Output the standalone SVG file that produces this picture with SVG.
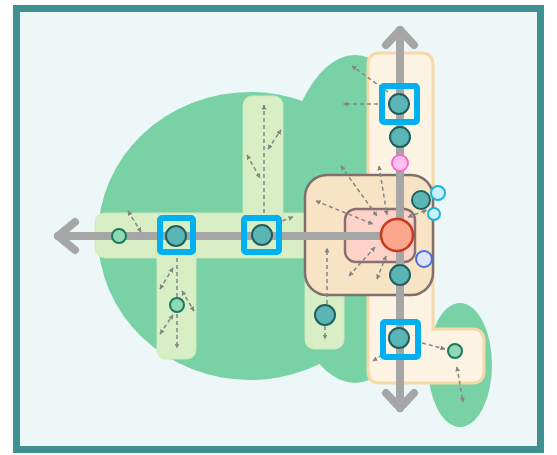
<svg xmlns="http://www.w3.org/2000/svg" width="557" height="455" viewBox="0 0 557 455">
<defs>
<marker id="ah" viewBox="0 0 10 10" refX="9" refY="5" markerWidth="5" markerHeight="5" orient="auto-start-reverse" markerUnits="userSpaceOnUse">
<path d="M0,0 L10,5 L0,10 z" fill="#858585"/>
</marker>
<style>
.green{fill:#78d2a6}
.bar{fill:#d8efc5;stroke:#cde8b8;stroke-width:1}
.road{stroke:#a6a6a6;stroke-width:8;fill:none;stroke-linecap:round;stroke-linejoin:round}
.d1{stroke:#858585;stroke-width:1.5;stroke-dasharray:4 3;fill:none;marker-end:url(#ah)}
.d2{stroke:#858585;stroke-width:1.5;stroke-dasharray:4 3;fill:none;marker-end:url(#ah);marker-start:url(#ah)}
.teal{fill:#5bb5b5;stroke:#1f5f5f;stroke-width:2}
.lg{fill:#8fdab2;stroke:#1c7a5c;stroke-width:2}
.sel{fill:none;stroke:#00b0f0;stroke-width:6}
</style>
</defs>
<rect x="16.5" y="8.5" width="524" height="441" fill="#eef7f8" stroke="#3f9090" stroke-width="7"/>
<g id="areas">
<ellipse class="green" cx="250" cy="236" rx="152" ry="144"/>
<ellipse class="green" cx="355" cy="219" rx="76" ry="164"/>
<ellipse class="green" cx="460" cy="365" rx="32" ry="62"/>
<rect class="bar" x="95" y="213" width="220" height="45" rx="10"/>
<rect class="bar" x="243" y="96" width="40" height="140" rx="9"/>
<rect class="bar" x="157" y="236" width="39" height="123" rx="9"/>
<rect class="bar" x="305" y="240" width="39" height="109" rx="9"/>
<path d="M380 53 H421 Q433 53 433 65 V329 H472 Q484 329 484 341 V371 Q484 383 472 383 H380 Q368 383 368 371 V65 Q368 53 380 53 Z" fill="#fdf3e2" stroke="#f6d9a6" stroke-width="3"/>
<rect x="305" y="175" width="128" height="120" rx="22" fill="#f8e3c4" stroke="#7f7070" stroke-width="2.5"/>
<rect x="345" y="209" width="70" height="53" rx="11" fill="#fdd3c9" stroke="#8c7070" stroke-width="2.5"/>
</g>
<g id="roads">
<path class="road" d="M58 236 H397"/>
<path class="road" d="M75 222 L58 236 L75 250"/>
<path class="road" d="M400 30 V408"/>
<path class="road" d="M386 45 L400 30 L414 45"/>
<path class="road" d="M386 393 L400 408 L414 393"/>
</g>
<g id="connectors">
<path class="d1" d="M264 213 V105"/>
<path class="d2" d="M268 149 L281 130"/>
<path class="d2" d="M247 155 L260 178"/>
<path class="d2" d="M128 211 L141 232"/>
<path class="d1" d="M276 223 L293 217"/>
<path class="d1" d="M177 258 V348"/>
<path class="d2" d="M160 289 L173 268"/>
<path class="d2" d="M182 291 L194 311"/>
<path class="d2" d="M160 334 L173 315"/>
<path class="d1" d="M388 92 L352 66"/>
<path class="d1" d="M378 104 H343"/>
<path class="d2" d="M341 166 L377 216"/>
<path class="d2" d="M379 166 L387 215"/>
<path class="d2" d="M316 201 L373 224"/>
<path class="d2" d="M408 217 L427 210"/>
<path class="d1" d="M327 304 V248"/>
<path class="d1" d="M325 326 V339"/>
<path class="d2" d="M349 276 L375 247"/>
<path class="d2" d="M377 279 L386 256"/>
<path class="d1" d="M422 343 L445 349"/>
<path class="d1" d="M382 355 L373 361"/>
<path class="d2" d="M457 367 L463 402"/>
</g>
<g id="n-hub"><circle cx="397" cy="235" r="16" fill="#fca68d" stroke="#c8391a" stroke-width="2.5"/></g>
<g id="n-w1"><circle class="lg" cx="119" cy="236" r="7"/></g>
<g id="n-w2"><circle class="teal" cx="176" cy="236" r="10"/><rect class="sel" x="160" y="218" width="33" height="34" rx="2"/></g>
<g id="n-w3"><circle class="teal" cx="262" cy="235" r="10"/><rect class="sel" x="244" y="218" width="35" height="34" rx="2"/></g>
<g id="n-s1"><circle class="lg" cx="177" cy="305" r="7"/></g>
<g id="n-n1"><circle class="teal" cx="399" cy="104" r="10"/><rect class="sel" x="382" y="86" width="35" height="36" rx="2"/></g>
<g id="n-n2"><circle class="teal" cx="400" cy="137" r="10"/></g>
<g id="n-n3"><circle cx="400" cy="163" r="8" fill="#ffc2f0" stroke="#ff66cc" stroke-width="2"/></g>
<g id="n-e1"><circle class="teal" cx="421" cy="200" r="9"/></g>
<g id="n-e2"><circle cx="438" cy="193" r="7" fill="#c8f0fc" stroke="#1ab4d8" stroke-width="2"/></g>
<g id="n-e3"><circle cx="434" cy="214" r="6" fill="#c8f0fc" stroke="#1ab4d8" stroke-width="2"/></g>
<g id="n-e4"><circle cx="424" cy="259" r="8" fill="#dde4f8" stroke="#4a6fd4" stroke-width="2"/></g>
<g id="n-s2"><circle class="teal" cx="400" cy="275" r="10"/></g>
<g id="n-s3"><circle class="teal" cx="325" cy="315" r="10"/></g>
<g id="n-s4"><circle class="teal" cx="399" cy="338" r="10"/><rect class="sel" x="383" y="322" width="35" height="35" rx="2"/></g>
<g id="n-s5"><circle class="lg" cx="455" cy="351" r="7"/></g>
</svg>
